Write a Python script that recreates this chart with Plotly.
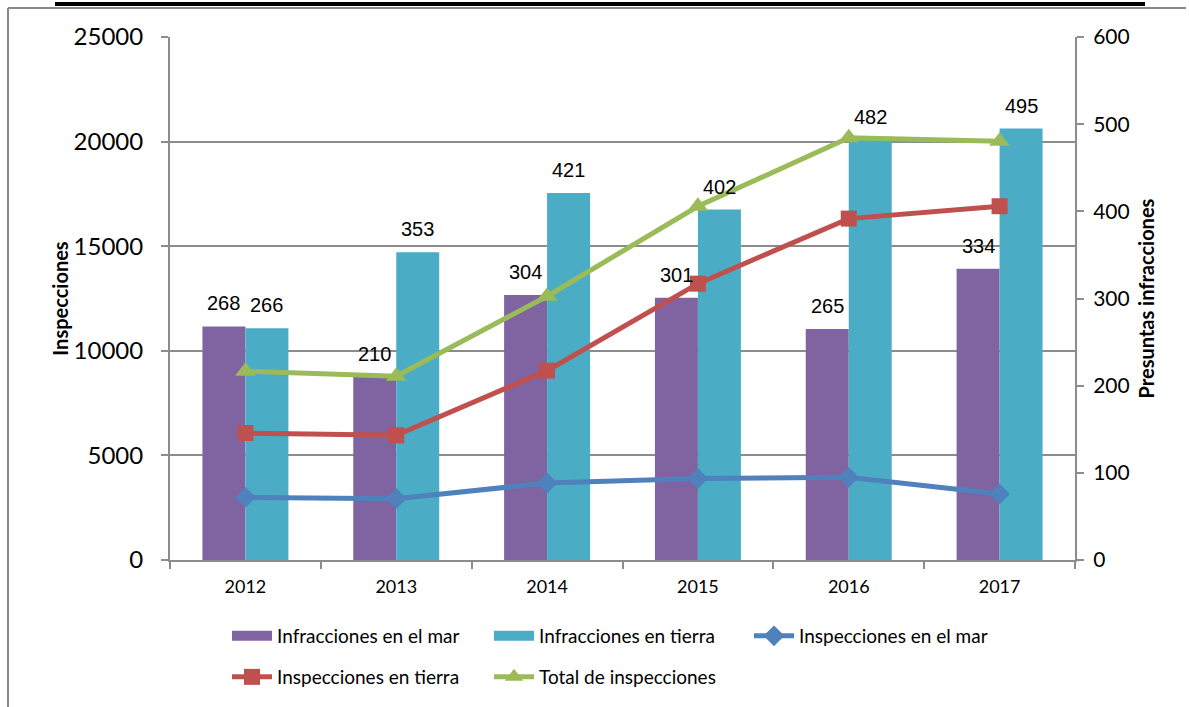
import plotly.graph_objects as go

years = [2012, 2013, 2014, 2015, 2016, 2017]
infr_mar = [268, 210, 304, 301, 265, 334]
infr_tierra = [266, 353, 421, 402, 482, 495]
insp_mar = [2990, 2930, 3680, 3890, 3950, 3150]
insp_tierra = [6070, 5960, 9050, 13210, 16320, 16910]
insp_total = [9020, 8780, 12610, 16910, 20180, 20020]

PURPLE = "#8064A2"
TEAL = "#4BACC6"
BLUE = "#4F81BD"
RED = "#C0504D"
GREEN = "#9BBB59"
GRID = "#8C8C8C"
FONT = "Lato, 'Open Sans', sans-serif"

fig = go.Figure()

# Bars (right axis: Presuntas infracciones)
fig.add_trace(go.Bar(x=years, y=infr_mar, name="Infracciones en el mar",
                     marker=dict(color=PURPLE, line=dict(width=0)),
                     yaxis="y", showlegend=False))
fig.add_trace(go.Bar(x=years, y=infr_tierra, name="Infracciones en tierra",
                     marker=dict(color=TEAL, line=dict(width=0)),
                     yaxis="y", showlegend=False))

# Lines (left axis: Inspecciones)
fig.add_trace(go.Scatter(x=years, y=insp_mar, name="Inspecciones en el mar", yaxis="y2",
                         mode="lines+markers", line=dict(color=BLUE, width=5),
                         marker=dict(symbol="diamond", size=16, color=BLUE),
                         legend="legend3"))
fig.add_trace(go.Scatter(x=years, y=insp_tierra, name="Inspecciones en tierra", yaxis="y2",
                         mode="lines+markers", line=dict(color=RED, width=5),
                         marker=dict(symbol="square", size=16, color=RED),
                         legend="legend4"))
fig.add_trace(go.Scatter(x=years, y=insp_total, name="Total de inspecciones", yaxis="y2",
                         mode="lines+markers", line=dict(color=GREEN, width=5),
                         marker=dict(symbol="triangle-up", size=18, color=GREEN),
                         legend="legend5"))

# Legend swatches for the bars
fig.add_trace(go.Scatter(x=[None], y=[None], name="Infracciones en el mar", mode="lines",
                         line=dict(color=PURPLE, width=14), legend="legend"))
fig.add_trace(go.Scatter(x=[None], y=[None], name="Infracciones en tierra", mode="lines",
                         line=dict(color=TEAL, width=14), legend="legend2"))

# Data labels above bars
half = (1 - 0.43) / 4
for yr, v in zip(years, infr_mar):
    fig.add_annotation(x=yr - half, y=v, xref="x", yref="y", text=str(v), showarrow=False,
                       yanchor="bottom", yshift=10,
                       font=dict(family="Liberation Sans, Arial", size=20, color="black"))
for yr, v in zip(years, infr_tierra):
    fig.add_annotation(x=yr + half, y=v, xref="x", yref="y", text=str(v), showarrow=False,
                       yanchor="bottom", yshift=10,
                       font=dict(family="Liberation Sans, Arial", size=20, color="black"))

# Frame decorations
L, R, T, B = 170, 114, 37, 147
W, H = 1189, 707
pw, ph = W - L - R, H - T - B
def px(x):
    return (x - L) / pw
def py(y):
    return (H - B - y) / ph

fig.add_shape(type="line", xref="paper", yref="paper", x0=px(55), x1=px(1145), y0=py(4), y1=py(4),
              line=dict(color="black", width=4))
fig.add_shape(type="line", xref="paper", yref="paper", x0=px(8), x1=px(1186), y0=py(8), y1=py(8),
              line=dict(color="#8A8A8A", width=2))
fig.add_shape(type="line", xref="paper", yref="paper", x0=px(8), x1=px(8), y0=py(8), y1=py(707),
              line=dict(color="#8A8A8A", width=2))

def leg(xpix, ypix):
    return dict(orientation="h", x=px(xpix), y=py(ypix), xanchor="left", yanchor="middle",
                itemwidth=40, font=dict(size=19), bgcolor="rgba(0,0,0,0)")

fig.update_layout(
    width=W, height=H,
    margin=dict(l=L, r=R, t=T, b=B, autoexpand=False),
    paper_bgcolor="white", plot_bgcolor="white",
    barmode="group", bargap=0.43, bargroupgap=0,
    font=dict(family=FONT, color="black"),
    xaxis=dict(range=[2011.5, 2017.5], tickvals=years, ticktext=[str(y) for y in years],
               ticks="", showgrid=False, zeroline=False,
               showline=True, linecolor=GRID, linewidth=2,
               tickfont=dict(size=18), ticklabelstandoff=9,
               minor=dict(tickvals=[2011.5, 2012.5, 2013.5, 2014.5, 2015.5, 2016.5, 2017.5],
                          ticks="outside", ticklen=7, tickcolor=GRID, tickwidth=2, showgrid=False)),
    yaxis=dict(range=[0, 600], tickvals=[0, 100, 200, 300, 400, 500, 600], side="right",
               showgrid=False, zeroline=False, showline=True, linecolor=GRID, linewidth=2,
               ticks="outside", ticklen=7, tickcolor=GRID, tickwidth=2,
               tickfont=dict(size=21), ticklabelstandoff=5,
               title=dict(text="<b>Presuntas infracciones</b>", font=dict(size=20), standoff=11)),
    yaxis2=dict(range=[0, 25000], tickvals=[0, 5000, 10000, 15000, 20000, 25000], side="left",
                tickformat="d",
                overlaying="y", showgrid=True, gridcolor=GRID, gridwidth=2, zeroline=False,
                showline=True, linecolor=GRID, linewidth=2,
                ticks="outside", ticklen=7, tickcolor=GRID, tickwidth=2,
                tickfont=dict(size=24), ticklabelstandoff=13,
                title=dict(text="<b>Inspecciones</b>", font=dict(size=20), standoff=0)),
    legend=leg(227, 636),
    legend2=leg(489, 636),
    legend3=leg(749, 636),
    legend4=leg(227, 677),
    legend5=leg(489, 677),
)

fig.write_html("out.html", config={"displayModeBar": False},
               post_script="document.body.style.margin='0';")
